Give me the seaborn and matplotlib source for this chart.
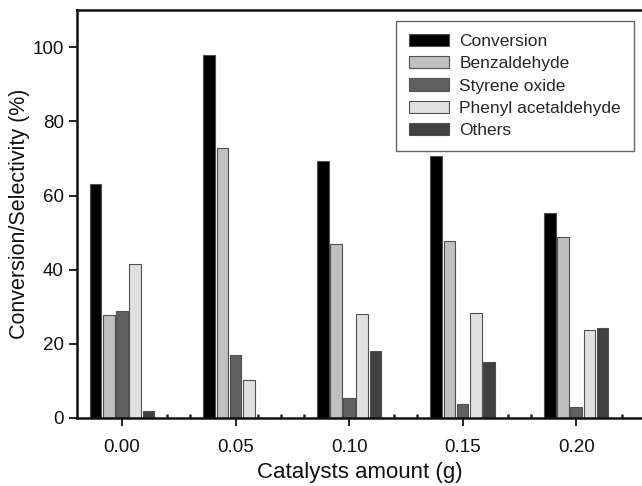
import seaborn as sns
import numpy as np
import pandas as pd
import matplotlib.pyplot as plt
from matplotlib.ticker import MultipleLocator

amounts = [0.00, 0.05, 0.10, 0.15, 0.20]
series = ["Conversion", "Benzaldehyde", "Styrene oxide", "Phenyl acetaldehyde", "Others"]
conversion = [63.1, 97.8, 69.2, 70.7, 55.4]
benzaldehyde = [27.8, 72.7, 47.0, 47.7, 48.8]
styrene_oxide = [28.9, 17.1, 5.5, 3.8, 3.0]
phenyl_acetaldehyde = [41.5, 10.3, 28.0, 28.2, 23.7]
others = [1.8, 0.0, 18.0, 15.1, 24.3]
colors = ["#000000", "#c0c0c0", "#606060", "#e0e0e0", "#404040"]

values = [conversion, benzaldehyde, styrene_oxide, phenyl_acetaldehyde, others]
df = pd.DataFrame({
    "amount": np.tile(amounts, len(series)),
    "series": np.repeat(series, len(amounts)),
    "value": np.concatenate(values),
})

sns.set_style("ticks")
plt.rcParams['font.family'] = ['Liberation Sans', 'DejaVu Sans']

fig = plt.figure(figsize=(6.42, 4.86), dpi=100)
ax = fig.add_axes([0.12, 0.14, 0.88, 0.839])

sns.barplot(data=df, x="amount", y="value", hue="series", hue_order=series,
            palette=colors, native_scale=True, width=0.58, gap=0.12,
            edgecolor="#505050", linewidth=0.8, ax=ax)

ax.set_xlim(-0.0198, 0.229)
ax.set_ylim(0, 110)
ax.set_xticks(amounts)
ax.set_xticklabels(["0.00", "0.05", "0.10", "0.15", "0.20"])
ax.xaxis.set_minor_locator(MultipleLocator(0.01))
ax.set_yticks([0, 20, 40, 60, 80, 100])
ax.tick_params(axis="both", which="major", direction="out", length=5.5, width=1.3,
               labelsize=13.5, colors="#111111")
ax.tick_params(axis="y", which="major", pad=4)
ax.tick_params(axis="x", which="major", pad=10)
ax.tick_params(axis="x", which="minor", direction="in", length=3, width=1.8)
for s in ["left", "bottom", "top"]:
    ax.spines[s].set_linewidth(1.8)
    ax.spines[s].set_color("#111111")
ax.spines["right"].set_visible(False)

ax.set_xlabel("Catalysts amount (g)", fontsize=16, color="#111111", labelpad=4)
ax.set_ylabel("Conversion/Selectivity (%)", fontsize=15.5, color="#111111", labelpad=2)

ax.legend(loc="upper right", bbox_to_anchor=(0.986, 0.973), borderaxespad=0,
          fontsize=12.5, fancybox=False, framealpha=1, edgecolor="#666666",
          handlelength=2.3, handleheight=0.7, labelspacing=0.4,
          borderpad=0.75, handletextpad=0.6, title=None)

fig.savefig("out.png", dpi=100)
